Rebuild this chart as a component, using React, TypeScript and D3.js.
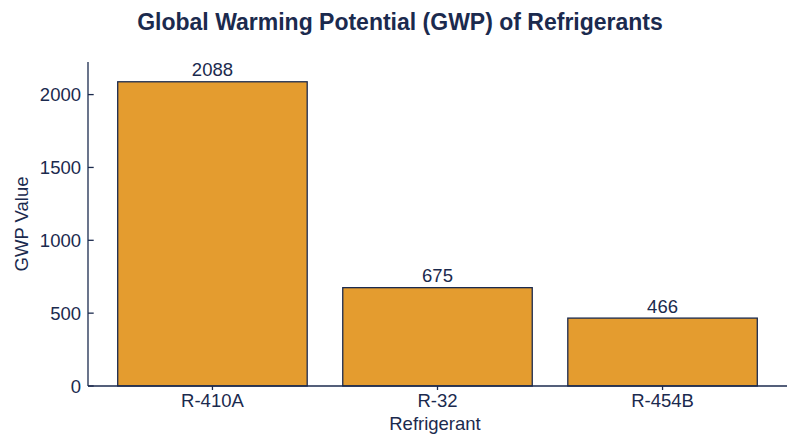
import * as d3 from 'd3';

const refrigerants = ['R-410A', 'R-32', 'R-454B'];
const gwpValues = [2088, 675, 466];
const yTicks = [0, 500, 1000, 1500, 2000];

const width = 800;
const height = 447;
const marginLeft = 88;
const marginRight = 13;
const marginTop = 62;
const marginBottom = 61;

const navy = '#1b2a4e';
const barColor = '#e49c2f';
const font = '"Liberation Sans", Arial, Helvetica, sans-serif';

const App = () => {
    const x = d3.scaleBand<string>()
        .domain(refrigerants)
        .range([marginLeft, width - marginRight])
        .paddingInner(0.158)
        .paddingOuter(0.132);
    const y = d3.scaleLinear()
        .domain([0, 2088 * 1.065])
        .range([height - marginBottom, marginTop]);

    const baseline = y(0);

    return (
        <svg width={width} height={height} style={{ position: 'absolute', left: 0, top: 0, background: 'white' }}>
            <text x={400} y={29.5} textAnchor="middle" style={{ font: `bold 23px ${font}`, fill: navy }}>
                Global Warming Potential (GWP) of Refrigerants
            </text>

            {/* bars */}
            {refrigerants.map((r, i) => (
                <g key={r}>
                    <rect
                        x={x(r)}
                        y={y(gwpValues[i])}
                        width={x.bandwidth()}
                        height={baseline - y(gwpValues[i])}
                        fill={barColor}
                        stroke={navy}
                        strokeWidth={1.3}
                    />
                    <text
                        x={(x(r) || 0) + x.bandwidth() / 2}
                        y={y(gwpValues[i]) - 5.5}
                        textAnchor="middle"
                        style={{ font: `18.5px ${font}`, fill: navy }}
                    >
                        {gwpValues[i]}
                    </text>
                </g>
            ))}

            {/* y axis */}
            <line x1={marginLeft} x2={marginLeft} y1={marginTop} y2={baseline} stroke={navy} strokeWidth={1.3} />
            {yTicks.map((t) => (
                <g key={t} transform={`translate(${marginLeft}, ${y(t)})`}>
                    <line x2={5.7} stroke={navy} strokeWidth={1.3} />
                    <text x={-7} dy="0.36em" textAnchor="end" style={{ font: `18.5px ${font}`, fill: navy }}>
                        {t}
                    </text>
                </g>
            ))}

            {/* x axis */}
            <line x1={marginLeft} x2={width - marginRight} y1={baseline} y2={baseline} stroke={navy} strokeWidth={1.3} />
            {refrigerants.map((r) => (
                <g key={r} transform={`translate(${(x(r) || 0) + x.bandwidth() / 2}, ${baseline})`}>
                    <line y2={4} stroke={navy} strokeWidth={1.3} />
                    <text y={406.7 - baseline} textAnchor="middle" style={{ font: `18.5px ${font}`, fill: navy }}>
                        {r}
                    </text>
                </g>
            ))}

            <text x={435} y={430} textAnchor="middle" style={{ font: `18.5px ${font}`, fill: navy }}>
                Refrigerant
            </text>
            <text
                transform={`translate(28, ${(marginTop + baseline) / 2}) rotate(-90)`}
                textAnchor="middle"
                style={{ font: `18.5px ${font}`, fill: navy }}
            >
                GWP Value
            </text>
        </svg>
    );
};

export default App;
